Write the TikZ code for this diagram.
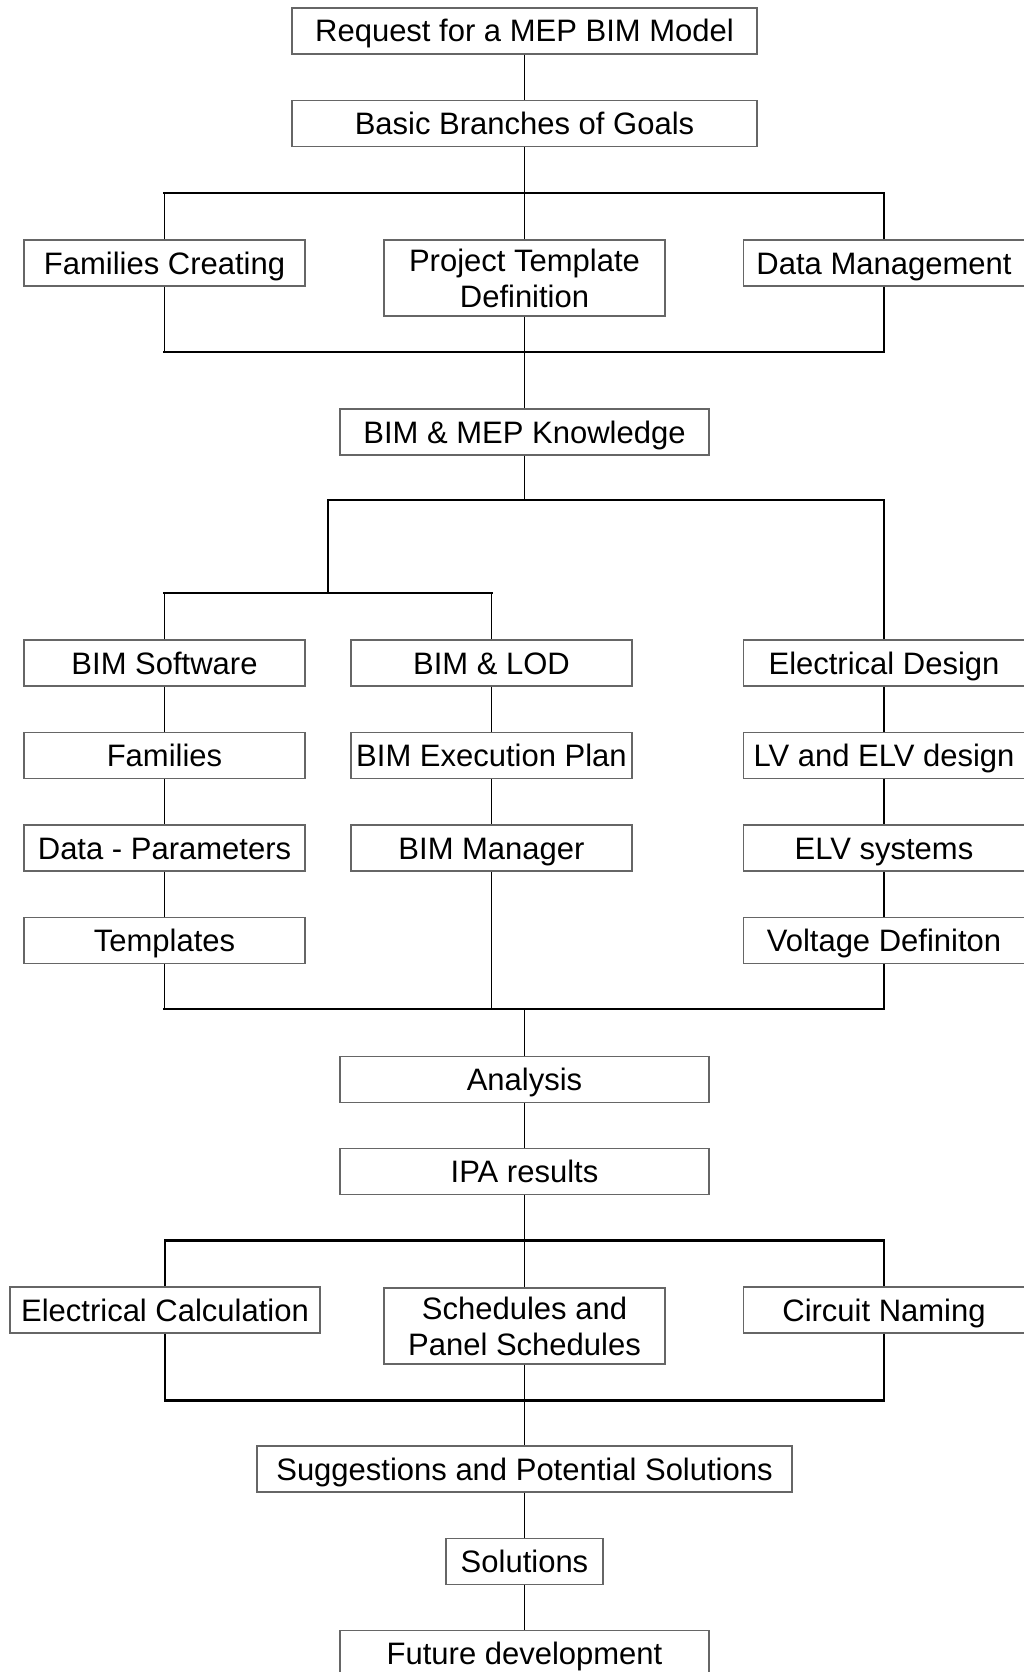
\documentclass[tikz,border=0pt]{standalone}
\usepackage{fontspec}
\setmainfont{Liberation Sans}

\tikzset{
	box/.style={draw=black!60, line width=1.3pt, rectangle, inner sep=0pt,
		minimum width=281pt, minimum height=46pt, align=center,
		text height=26pt, text depth=4pt,
		font=\fontsize{31}{36}\selectfont},
	twoline/.style={text height=62pt, minimum height=76pt},
	link/.style={line width=1.8pt},
	bar/.style={line width=2.8pt, line cap=rect}
}

\begin{document}
\begin{tikzpicture}[x=1pt,y=-1pt]
	\useasboundingbox (0,0) rectangle (1024,1672);

	% request and goals
	\node[box, minimum width=465pt] (req)   at (524.5,31)  {Request for a MEP BIM Model};
	\node[box, minimum width=465pt] (goals) at (524.5,123.5) {Basic Branches of Goals};

	% first split
	\node[box] (famc)  at (164.5,263) {Families Creating};
	\node[box, twoline] (ptd) at (524.5,278) {Project Template\\Definition};
	\node[box] (datam) at (884,263)   {Data Management};

	\node[box, minimum width=369pt] (know) at (524.5,432) {BIM \& MEP Knowledge};

	% three columns
	\node[box] (bims)  at (164.5,663)   {BIM Software};
	\node[box] (fam)   at (164.5,755.5) {Families};
	\node[box] (datap) at (164.5,848)   {Data - Parameters};
	\node[box] (tmpl)  at (164.5,940.5) {Templates};

	\node[box] (lod) at (491.5,663)   {BIM \& LOD};
	\node[box] (bep) at (491.5,755.5) {BIM Execution Plan};
	\node[box] (mgr) at (491.5,848)   {BIM Manager};

	\node[box] (eld)   at (884,663)   {Electrical Design};
	\node[box] (lvelv) at (884,755.5) {LV and ELV design};
	\node[box] (elv)   at (884,848)   {ELV systems};
	\node[box] (volt)  at (884,940.5) {Voltage Definiton};

	\node[box, minimum width=369pt] (ana) at (524.5,1079.5) {Analysis};
	\node[box, minimum width=369pt] (ipa) at (524.5,1171.5) {IPA results};

	% second split
	\node[box, minimum width=310pt] (ecalc) at (165,1310) {Electrical Calculation};
	\node[box, twoline] (sched) at (524.5,1326) {Schedules and\\Panel Schedules};
	\node[box] (circ) at (884,1310) {Circuit Naming};

	% outcome
	\node[box, minimum width=535pt] (sugg) at (524.5,1469) {Suggestions and Potential Solutions};
	\node[box, minimum width=157pt] (sol)  at (524.5,1561.5) {Solutions};
	\node[box, minimum width=369pt] (fut)  at (524.5,1653.5) {Future development};

	% junction points of the brackets
	\coordinate (s1) at (524.5,193);
	\coordinate (j1) at (524.5,352);
	\coordinate (s2) at (328,500);
	\coordinate (s3) at (328,593);
	\coordinate (j2) at (524.5,1009);
	\coordinate (s4) at (524.5,1240.5);
	\coordinate (j3) at (524.5,1400.5);

	% vertical links
	\draw[link] (req) -- (goals);
	\draw[link] (goals) -- (ptd);
	\draw[link] (ptd) -- (know);
	\draw[link] (famc.north) -- (famc |- s1)  (datam.north) -- (datam |- s1);
	\draw[link] (famc.south) -- (famc |- j1)  (datam.south) -- (datam |- j1);

	\draw[link] (know.south) -- (know |- s2);
	\draw[link] (s2) -- (s3);
	\draw[link] (eld.north) -- (eld |- s2);
	\draw[link] (bims.north) -- (bims |- s3)  (lod.north) -- (lod |- s3);

	\draw[link] (bims) -- (fam) -- (datap) -- (tmpl);
	\draw[link] (lod) -- (bep) -- (mgr);
	\draw[link] (eld) -- (lvelv) -- (elv) -- (volt);
	\draw[link] (tmpl.south) -- (tmpl |- j2)
				(mgr.south) -- (mgr |- j2)
				(volt.south) -- (volt |- j2);
	\draw[link] (j2) -- (ana.north);

	\draw[link] (ana) -- (ipa);
	\draw[link] (ipa) -- (sched);
	\draw[link] (ecalc.north) -- (ecalc |- s4)  (circ.north) -- (circ |- s4);
	\draw[link] (ecalc.south) -- (ecalc |- j3)  (circ.south) -- (circ |- j3);
	\draw[link] (sched) -- (sugg);
	\draw[link] (sugg) -- (sol) -- (fut);

	% horizontal bars
	\draw[bar] (famc |- s1) -- (datam |- s1);
	\draw[bar] (famc |- j1) -- (datam |- j1);
	\draw[bar] (s2) -- (eld |- s2);
	\draw[bar] (bims |- s3) -- (lod |- s3);
	\draw[bar] (tmpl |- j2) -- (volt |- j2);
	\draw[bar] (ecalc |- s4) -- (circ |- s4);
	\draw[bar] (ecalc |- j3) -- (circ |- j3);
\end{tikzpicture}
\end{document}
